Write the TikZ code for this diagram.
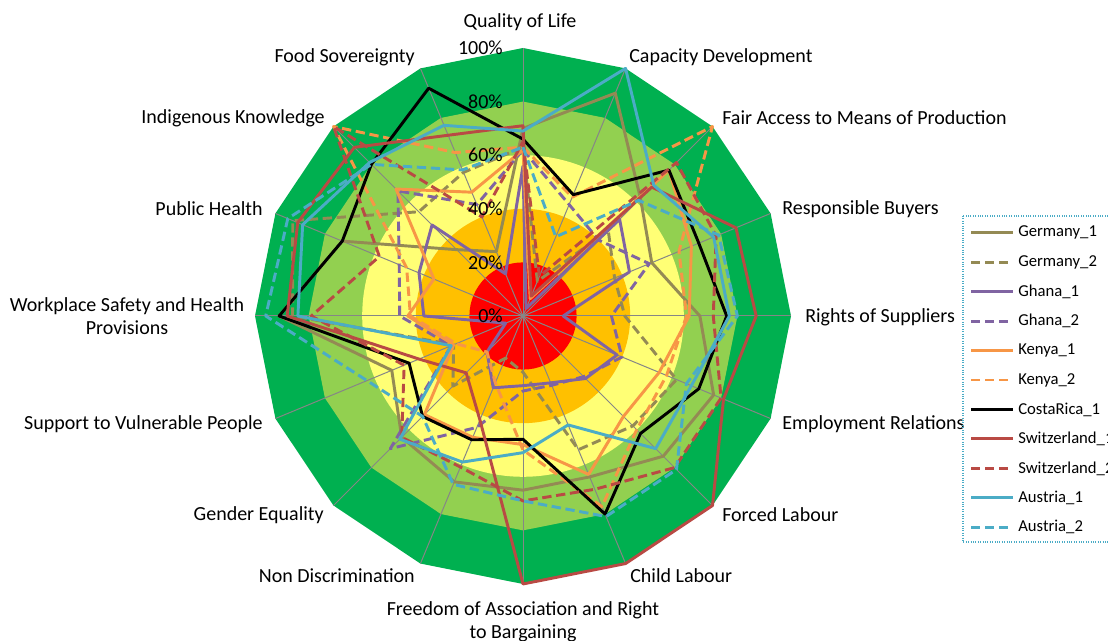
\documentclass[tikz,border=0pt]{standalone}
\usepackage{fontspec}
\setmainfont{Carlito}
\usetikzlibrary{calc}

\definecolor{dkgreen}{RGB}{0,176,80}
\definecolor{ltgreen}{RGB}{146,208,80}
\definecolor{ltyellow}{RGB}{255,255,117}
\definecolor{amber}{RGB}{255,192,0}
\definecolor{redband}{RGB}{255,0,0}
\definecolor{spokegray}{RGB}{134,134,134}
\definecolor{germanyc}{RGB}{148,138,84}
\definecolor{ghanac}{RGB}{128,100,162}
\definecolor{kenyac}{RGB}{247,150,70}
\definecolor{swissc}{RGB}{185,74,68}
\definecolor{austriac}{RGB}{75,172,198}

% one closed line of the radar chart: name, style, 16 values
\newcommand{\radarline}[3]{%
  \foreach \v [count=\k from 0] in {#3}
    \coordinate (#1-\k) at ({90-22.5*\k}:{268*\v});
  \draw[#2] (#1-0) \foreach \k in {1,...,15} { -- (#1-\k) } -- cycle;
}

\begin{document}
\begin{tikzpicture}[
x=0.75pt, y=0.75pt,
lbl/.style={
    inner sep=0pt,
    font=\fontsize{15}{17.25}\selectfont},
keytext/.style={
    inner sep=0pt,
    anchor=west,
    font=\fontsize{12.5}{14}\selectfont},
spoke/.style={draw=spokegray, line width=0.75pt},
serie/.style={line width=2.2pt, line join=round},
dashline/.style={serie, dash pattern=on 7pt off 3.5pt},
germany1/.style={serie, draw=germanyc},
germany2/.style={dashline, draw=germanyc},
ghana1/.style={serie, draw=ghanac},
ghana2/.style={dashline, draw=ghanac},
kenya1/.style={serie, draw=kenyac},
kenya2/.style={dashline, draw=kenyac},
costarica1/.style={serie, draw=black},
swiss1/.style={serie, draw=swissc},
swiss2/.style={dashline, draw=swissc},
austria1/.style={serie, draw=austriac},
austria2/.style={dashline, draw=austriac}
]

\useasboundingbox (0,0) rectangle (1108,641);

\begin{scope}[shift={(523,325)}]
% coloured bands
\fill[dkgreen] (90:268) \foreach \k in {1,...,15} { -- ({90-22.5*\k}:268) } -- cycle;
\fill[ltgreen] (90:214.4) \foreach \k in {1,...,15} { -- ({90-22.5*\k}:214.4) } -- cycle;
\fill[ltyellow] (0,0) circle (160.8);
\fill[amber] (0,0) circle (107.2);
\fill[redband] (0,0) circle (53.6);

\foreach \k in {0,...,15}
    \draw[spoke] (0,0) -- ({90-22.5*\k}:268);

\radarline{ger1}{germany1}{0.70,0.90,0.62,0.52,0.66,0.77,0.74,0.65,0.65,0.67,0.64,0.53,0.91,0.73,0.35,0.26}
\radarline{ger2}{germany2}{0.63,0.14,0.45,0.37,0.38,0.62,0.58,0.54,0.21,0.17,0.37,0.28,0.86,0.93,0.55,0.58}
\radarline{gha1}{ghana1}{0.56,0.03,0.51,0.43,0.15,0.38,0.33,0.27,0.26,0.29,0.19,0.07,0.37,0.42,0.48,0.17}
\radarline{gha2}{ghana2}{0.62,0.45,0.40,0.51,0.33,0.40,0.32,0.28,0.28,0.45,0.70,0.29,0.46,0.50,0.66,0.45}
\radarline{ken1}{kenya1}{0.62,0.07,0.77,0.68,0.62,0.55,0.53,0.64,0.48,0.49,0.52,0.28,0.43,0.36,0.67,0.50}
\radarline{ken2}{kenya2}{0.63,0.48,1.00,0.63,0.61,0.58,0.60,0.77,0.50,0.27,0.19,0.27,0.42,0.47,1.00,0.66}
\radarline{cos1}{costarica1}{0.66,0.49,0.77,0.71,0.76,0.71,0.62,0.80,0.46,0.50,0.53,0.46,0.91,0.73,0.80,0.92}
\radarline{swi1}{swiss1}{0.71,0.08,0.68,0.86,0.87,0.81,1.00,1.00,1.00,0.42,0.30,0.42,0.88,0.91,0.89,0.73}
\radarline{swi2}{swiss2}{0.65,0.16,0.81,0.78,0.71,0.80,0.80,0.70,0.69,0.61,0.64,0.48,0.79,0.58,1.00,0.40}
\radarline{aus1}{austria1}{0.69,1.00,0.69,0.77,0.77,0.68,0.70,0.44,0.51,0.59,0.65,0.29,0.84,0.89,0.81,0.77}
\radarline{aus2}{austria2}{0.63,0.32,0.61,0.79,0.80,0.66,0.81,0.81,0.69,0.68,0.53,0.63,0.96,0.95,0.80,0.59}

\foreach \p [count=\i from 0] in {0,20,40,60,80,100}
    \node[lbl, anchor=east] (pct\p) at (-20, {53.6*\i}) {\p\%};
\end{scope}

\node[lbl] (qol) at (520,619) {Quality of Life};
\node[lbl, anchor=west] (capdev) at (629,584) {Capacity Development};
\node[lbl, anchor=west] (fairacc) at (722,523) {Fair Access to Means of Production};
\node[lbl, anchor=west] (respbuy) at (782,432) {Responsible Buyers};
\node[lbl, anchor=west] (rightsup) at (805,324) {Rights of Suppliers};
\node[lbl, anchor=west] (emprel) at (782,217) {Employment Relations};
\node[lbl, anchor=west] (forced) at (722,126) {Forced Labour};
\node[lbl, anchor=west] (child) at (630,65) {Child Labour};
\node[lbl, align=center] (freedom) at (523,19.5) {Freedom of Association and Right\\to Bargaining};
\node[lbl, anchor=east] (nondisc) at (415,65) {Non Discrimination};
\node[lbl, anchor=east] (gender) at (324,126) {Gender Equality};
\node[lbl, anchor=east] (vulner) at (263,217) {Support to Vulnerable People};
\node[lbl, align=center] (safety) at (127,324.5) {Workplace Safety and Health\\Provisions};
\node[lbl, anchor=east] (pubhealth) at (263,432) {Public Health};
\node[lbl, anchor=east] (indig) at (325,523) {Indigenous Knowledge};
\node[lbl, anchor=east] (foodsov) at (415,584) {Food Sovereignty};

% legend
\draw[austriac, densely dotted, line width=0.8pt] (963,425) rectangle (1114,99);
\foreach \name/\sty [count=\i from 0] in {Germany\_1/germany1, Germany\_2/germany2, Ghana\_1/ghana1, Ghana\_2/ghana2, Kenya\_1/kenya1, Kenya\_2/kenya2, CostaRica\_1/costarica1, Switzerland\_1/swiss1, Switzerland\_2/swiss2, Austria\_1/austria1, Austria\_2/austria2} {
    \coordinate (key\i) at (971, {408.3-29.46*\i});
    \draw[\sty] (key\i) -- ++(42,0);
    \node[keytext] (keytxt\i) at ($(key\i)+(47,0)$) {\name};
}

\end{tikzpicture}
\end{document}
